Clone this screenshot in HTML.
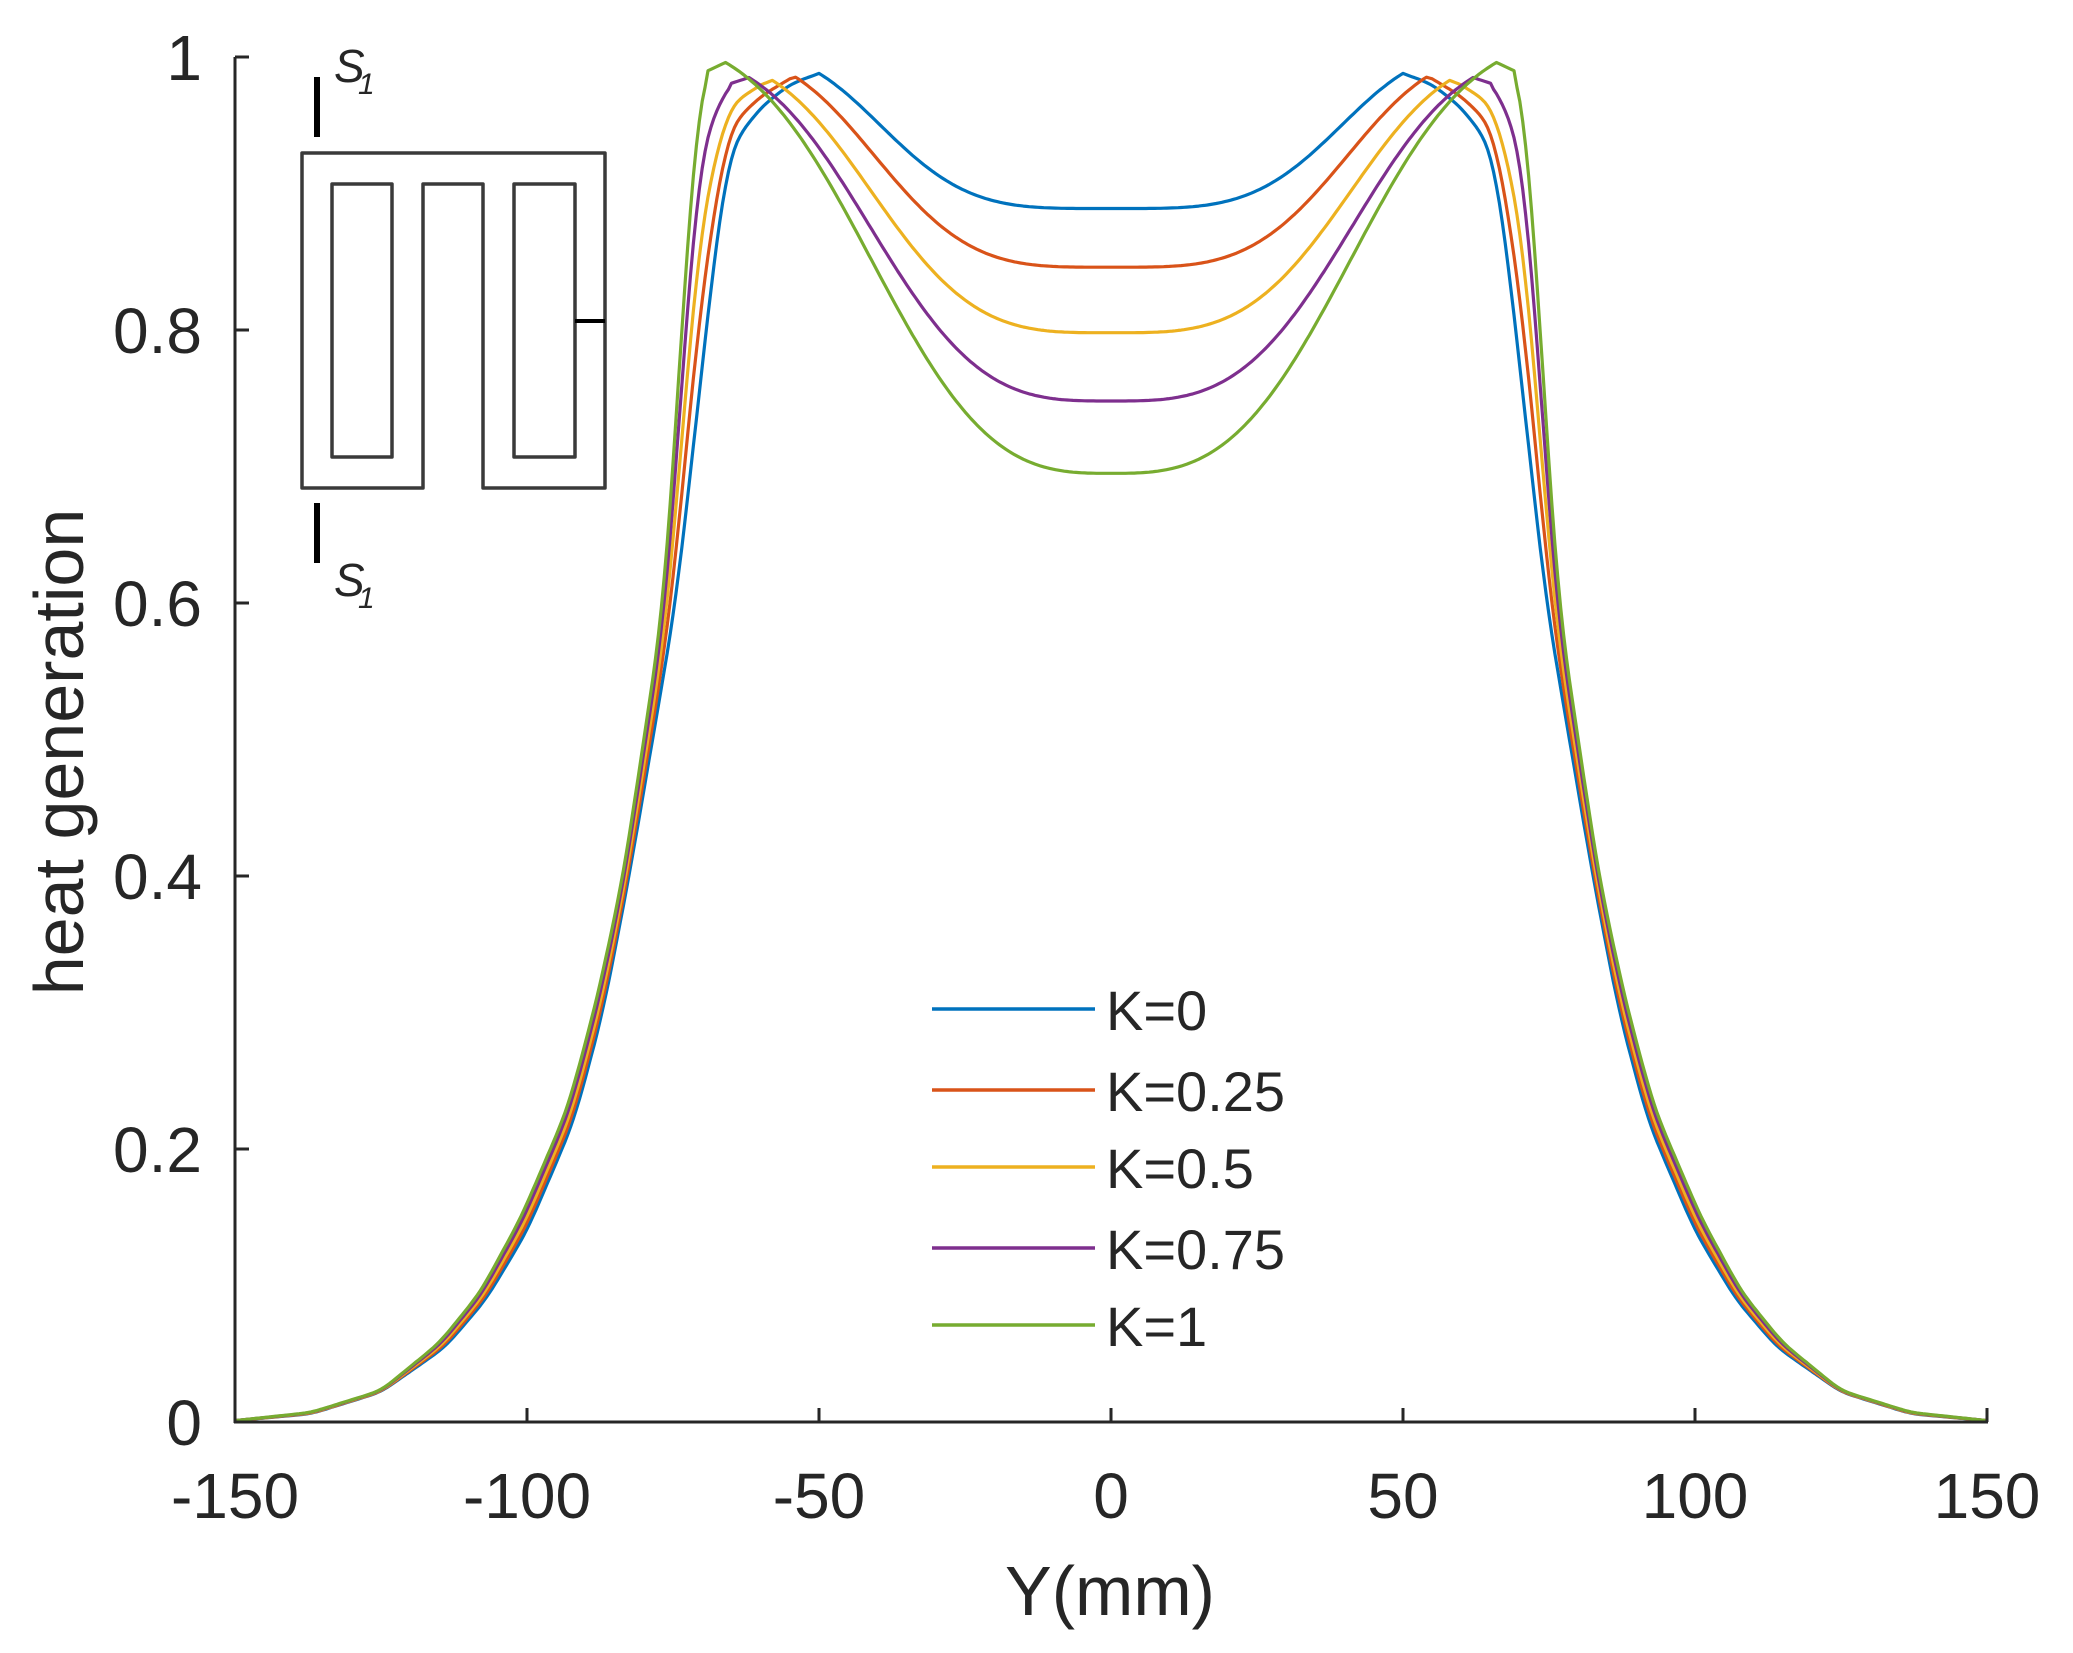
<!DOCTYPE html>
<html><head><meta charset="utf-8"><style>
html,body{margin:0;padding:0;background:#fff;}
svg{display:block;}
text{font-family:"Liberation Sans",Arial,sans-serif;fill:#262626;}
</style></head><body>
<svg id="s" width="2073" height="1653" viewBox="0 0 2073 1653" xmlns="http://www.w3.org/2000/svg">
<g id="curves" fill="none" stroke-width="3.2" stroke-linejoin="round"></g>
<g stroke="#262626" stroke-width="3" fill="none">
<line x1="235" y1="57" x2="235" y2="1423"/>
<line x1="234" y1="1422" x2="1988" y2="1422"/>
<line x1="235" y1="57" x2="249" y2="57"/>
<line x1="235" y1="330" x2="249" y2="330"/>
<line x1="235" y1="603" x2="249" y2="603"/>
<line x1="235" y1="876" x2="249" y2="876"/>
<line x1="235" y1="1149" x2="249" y2="1149"/>
<line x1="527" y1="1422" x2="527" y2="1408"/>
<line x1="819" y1="1422" x2="819" y2="1408"/>
<line x1="1111" y1="1422" x2="1111" y2="1408"/>
<line x1="1403" y1="1422" x2="1403" y2="1408"/>
<line x1="1695" y1="1422" x2="1695" y2="1408"/>
<line x1="1987" y1="1422" x2="1987" y2="1408"/>
</g>
<g font-size="64" text-anchor="end">
<text x="202" y="80">1</text>
<text x="202" y="353">0.8</text>
<text x="202" y="626">0.6</text>
<text x="202" y="899">0.4</text>
<text x="202" y="1172">0.2</text>
<text x="202" y="1445">0</text>
</g>
<g font-size="64" text-anchor="middle">
<text x="235" y="1518">-150</text>
<text x="527" y="1518">-100</text>
<text x="819" y="1518">-50</text>
<text x="1111" y="1518">0</text>
<text x="1403" y="1518">50</text>
<text x="1695" y="1518">100</text>
<text x="1987" y="1518">150</text>
</g>
<text x="1110" y="1615" font-size="70" text-anchor="middle">Y(mm)</text>
<text transform="translate(83,752) rotate(-90)" font-size="70" text-anchor="middle">heat generation</text>
<g fill="none" stroke="#3a3a3a" stroke-width="3.5" stroke-linejoin="round">
<path d="M423,488 L302,488 L302,153 L605,153 L605,488 L483,488 L483,184 L423,184 Z"/>
<rect x="332" y="184" width="60" height="273"/>
<rect x="514" y="184" width="61" height="273"/>
<line x1="575" y1="321" x2="605" y2="321" stroke="#000" stroke-width="4"/>
</g>
<g stroke="#000" stroke-width="6">
<line x1="317" y1="77" x2="317" y2="137"/>
<line x1="317" y1="503" x2="317" y2="563"/>
</g>
<g font-size="46" font-style="italic" font-family="'Liberation Serif',serif">
<text x="334" y="82">S</text><text x="358" y="94" font-size="30">1</text>
<text x="334" y="596">S</text><text x="358" y="608" font-size="30">1</text>
</g>
<g stroke-width="3.5">
<line x1="932" y1="1009" x2="1095" y2="1009" stroke="#0072BD"/>
<line x1="932" y1="1090" x2="1095" y2="1090" stroke="#D95319"/>
<line x1="932" y1="1167" x2="1095" y2="1167" stroke="#EDB120"/>
<line x1="932" y1="1248" x2="1095" y2="1248" stroke="#7E2F8E"/>
<line x1="932" y1="1325" x2="1095" y2="1325" stroke="#77AC30"/>
</g>
<g font-size="56">
<text x="1106" y="1030">K=0</text>
<text x="1106" y="1111">K=0.25</text>
<text x="1106" y="1188">K=0.5</text>
<text x="1106" y="1269">K=0.75</text>
<text x="1106" y="1346">K=1</text>
</g>
</svg>
<script>
(function(){
var B=[[0,0.988],[50,0.988],[55,0.98],[60,0.963],[65,0.935],[67.5,0.87],[69.3,0.8],[74.5,0.6],[82.5,0.4],[87,0.3],[92,0.22],[100,0.14],[107,0.09],[114,0.055],[125,0.022],[137,0.006],[150,0.001]];
var G=[[0,0.996],[66,0.996],[70,0.988],[72,0.9],[73.5,0.8],[76.5,0.6],[83.5,0.4],[88,0.31],[93,0.23],[101,0.15],[108,0.095],[115,0.058],[125,0.023],[137,0.007],[150,0.001]];
function interp(t,d){for(var i=1;i<t.length;i++){if(d<=t[i][0]){var a=t[i-1],b=t[i];return a[1]+(b[1]-a[1])*(d-a[0])/(b[0]-a[0]);}}return t[t.length-1][1];}
var cols=["#0072BD","#D95319","#EDB120","#7E2F8E","#77AC30"];
var centers=[0.889,0.846,0.798,0.748,0.695];
var g=document.getElementById("curves");
for(var k=0;k<5;k++){
 var K=k/4,p=50+16*K,c=centers[k];
 var n=4-1*K,a=0.85-0.139*K;
 var S1=1-Math.exp(-Math.pow(1/a,n));
 var outer=function(d){return (1-K)*interp(B,d)+K*interp(G,d);};
 var vp=outer(p);
 var f=function(y){var d=Math.abs(y);if(d>=p)return outer(d);var t=d/p;var s=(1-Math.exp(-Math.pow(t/a,n)))/S1;return c+(vp-c)*s;};
 var xs=[],vs=[];
 for(var y=-150;y<=150.001;y+=0.5){xs.push(y);vs.push(f(y));}
 for(var pass=0;pass<3;pass++){
  var nv=vs.slice();
  for(var i=2;i<vs.length-2;i++){var d=Math.abs(xs[i]);if(d>p+3){nv[i]=(vs[i-2]+vs[i-1]+vs[i]+vs[i+1]+vs[i+2])/5;}}
  vs=nv;
 }
 var pts=[];
 for(var i=0;i<xs.length;i++){pts.push((1111+xs[i]*5.84).toFixed(1)+","+(1422-vs[i]*1365).toFixed(1));}
 var pa=document.createElementNS("http://www.w3.org/2000/svg","polyline");
 pa.setAttribute("points",pts.join(" "));pa.setAttribute("stroke",cols[k]);
 g.appendChild(pa);
}
})();
</script>
</body></html>
